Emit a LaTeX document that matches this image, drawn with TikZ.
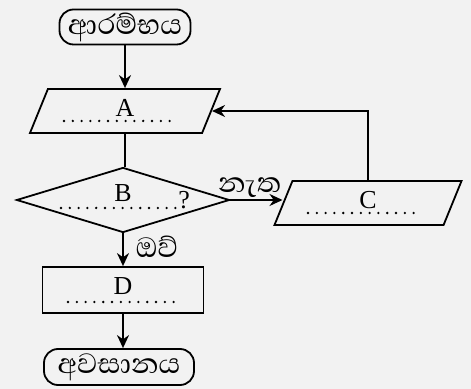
\documentclass[tikz,border=0pt]{standalone}
\usepackage{fontspec}
\setmainfont{Liberation Serif}
\newfontfamily\sinhala[Script=Sinhala]{Abhaya Libre}
\usetikzlibrary{calc}
\usetikzlibrary{shapes.geometric}
\usetikzlibrary{arrows.meta}

\begin{document}
\begin{tikzpicture}[x=0.5bp,y=-0.5bp,
    >={Stealth[length=6.5bp,width=6bp]},
    line width=0.9bp,
    every node/.style={font=\fontsize{13}{15}\selectfont},
    terminal/.style={draw,rectangle,rounded corners=7bp,minimum width=65.5bp,minimum height=17.5bp,inner sep=0pt,font=\sinhala\fontsize{18}{20}\selectfont},
    io/.style={draw,trapezium,trapezium left angle=57.5,trapezium right angle=122.5,trapezium stretches body=true,minimum width=95bp,minimum height=22bp,inner sep=1bp,text depth=3.5bp},
    decision/.style={draw,diamond,minimum width=106.5bp,minimum height=32.5bp,inner sep=0pt,text depth=6.5bp},
    process/.style={draw,rectangle,minimum width=80.5bp,minimum height=23bp,inner sep=1bp,text depth=4bp},
    blank/.style={dash pattern=on 0pt off 4.4bp,line cap=round,line width=1.3bp},
    answer/.style={font=\sinhala\fontsize{18}{20}\selectfont,inner sep=1bp}]

    \fill [black!5] (0,0) rectangle (471,389);
    \useasboundingbox (0,0) rectangle (471,389);

    \node [terminal] (start) at (125,27) {ආරම්භය};
    \node [io] (a) at (125,111) {A};
    \node [decision] (b) at (123,200) {B};
    \node (bq) at ($(b.center)+(61,0)$) {?};
    \node [io,minimum width=93.5bp] (c) at (368,203) {C};
    \node [process] (d) at (123,290) {D};
    \node [terminal,minimum width=75bp,minimum height=18bp] (end) at (119,367) {අවසානය};

    % dotted blanks under the letters
    \draw [blank] ($(a.center)+(-61,10)$) -- ++(114,0);
    \draw [blank] ($(b.center)+(-62,8)$) -- ++(116,0);
    \draw [blank] ($(c.center)+(-60,10)$) -- ++(114,0);
    \draw [blank] ($(d.center)+(-55,12)$) -- ++(112,0);

    \draw [arrows=->] (start.south) -- (start.south |- a.north);
    \draw [] (a.south) -- (a.south |- b.north);
    \draw [arrows=->] (b.east) -- node[answer,pos=0.37,above] {නැත} (b.east -| c.west);
    \draw [arrows=->] (c.north) |- (a.east);
    \draw [arrows=->] (b.south) -- node[answer,pos=0.4,right,xshift=5bp] {ඔව්} (b.south |- d.north);
    \draw [arrows=->] (d.south) -- (d.south |- end.north);

\end{tikzpicture}
\end{document}
